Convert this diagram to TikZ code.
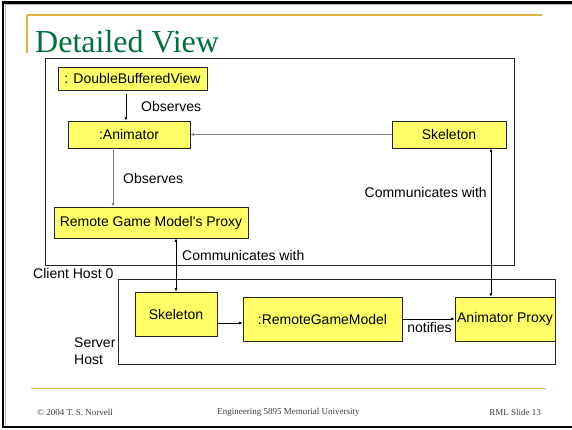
\documentclass[tikz,border=0pt]{standalone}
\usepackage{fontspec}
\setmainfont{Liberation Serif}
\newfontfamily\arial{Liberation Sans}
\usetikzlibrary{arrows.meta}
\definecolor{boxyellow}{RGB}{255,255,102}
\definecolor{titlegreen}{RGB}{0,112,60}
\definecolor{rulegold}{RGB}{224,178,64}
\definecolor{footgray}{RGB}{60,60,60}
\tikzset{
  obj/.style={draw=black!85, fill=boxyellow, line width=0.8pt, inner sep=0pt,
              font=\arial\fontsize{14}{16}\selectfont, anchor=center},
  lbl/.style={font=\arial\fontsize{14}{16}\selectfont, inner sep=0pt},
  foot/.style={font=\fontsize{9}{11}\selectfont, text=footgray, inner sep=0pt},
  arr/.style={-{Latex[length=3.5pt,width=3pt]}, line width=0.6pt},
  darr/.style={{Latex[length=3.5pt,width=3pt]}-{Latex[length=3.5pt,width=3pt]}, line width=0.6pt},
  grayarr/.style={arr, draw=black!50, line width=0.8pt},
  hostbox/.style={draw=black!85, line width=0.9pt},
}
\begin{document}
\begin{tikzpicture}[x=1pt, y=-1pt]
\useasboundingbox (0,0) rectangle (572,429);
\fill[white] (0,0) rectangle (572,429);

% slide frame
\draw[line width=2.6pt] (580,2.5) -- (3,2.5) -- (3,427) -- (580,427);
\draw[black!30, line width=0.8pt] (580,4.8) -- (5.3,4.8) -- (5.3,424.8);

% gold rules
\draw[rulegold, line width=1.6pt] (27,15) -- (542,15);
\draw[rulegold, line width=1.2pt] (27,15) -- (27,53);
\draw[rulegold, line width=1pt] (31,388) -- (546,388);

% title
\node[anchor=base west, inner sep=0pt, text=titlegreen,
      font=\fontsize{32}{35}\selectfont] (title) at (35,52) {Detailed View};

% host boxes
\draw[hostbox] (45,58) rectangle (514,265);
\draw[hostbox] (118,279) rectangle (555,364);

% objects on the client host
\node[obj, minimum width=149pt, minimum height=23pt] (dbv) at (132.5,78.5) {: DoubleBufferedView};
\node[obj, minimum width=122pt, minimum height=27pt] (anim) at (129,134.5) {:Animator};
\node[obj, minimum width=194pt, minimum height=31pt] (proxy) at (151,222.5) {Remote Game Model's Proxy};
\node[obj, minimum width=114pt, minimum height=27pt] (skelc) at (449,134.5) {Skeleton};

% objects on the server host
\node[obj, minimum width=82pt, minimum height=44pt] (skels) at (176,314) {Skeleton};
\node[obj, minimum width=159pt, minimum height=44pt] (rgm) at (322.5,319) {:RemoteGameModel};
\node[obj, minimum width=100pt, minimum height=44pt] (aproxy) at (505,319) {Animator Proxy};

% connectors
\draw[arr, shorten <=4pt] (dbv.south -| 126,0) -- (anim.north -| 126,0);
\draw[grayarr] (anim.south -| 113,0) -- (proxy.north -| 113,0);
\draw[grayarr] (skelc.west) -- (anim.east);
\draw[darr] (proxy.south -| 176,0) -- (skels.north -| 176,0);
\draw[darr] (aproxy.north -| 491,0) -- (skelc.south -| 491,0);
\draw[arr] (skels.east |- 0,323) -- (rgm.west |- 0,323);
\draw[arr] (rgm.east) -- (aproxy.west);

% connector labels
\node[lbl, anchor=west] (l1) at (141,106) {Observes};
\node[lbl, anchor=west] (l2) at (123,178) {Observes};
\node[lbl, anchor=west] (l3) at (182,255) {Communicates with};
\node[lbl, anchor=east] (l4) at (487,192) {Communicates with};
\node[lbl] (l5) at (429.5,327) {notifies};

% host labels
\node[lbl, anchor=west] (ch) at (33,273) {Client Host 0};
\node[lbl, anchor=north west, align=left, font=\arial\fontsize{14}{17}\selectfont] (sh) at (74,338) {Server\\Host};

% footer
\node[foot, anchor=west] (f1) at (37,412) {\textcopyright\ 2004 T. S. Norvell};
\node[foot] (f2) at (288.5,412) {Engineering 5895 Memorial University};
\node[foot, anchor=east] (f3) at (541,412) {RML Slide 13};
\end{tikzpicture}
\end{document}
